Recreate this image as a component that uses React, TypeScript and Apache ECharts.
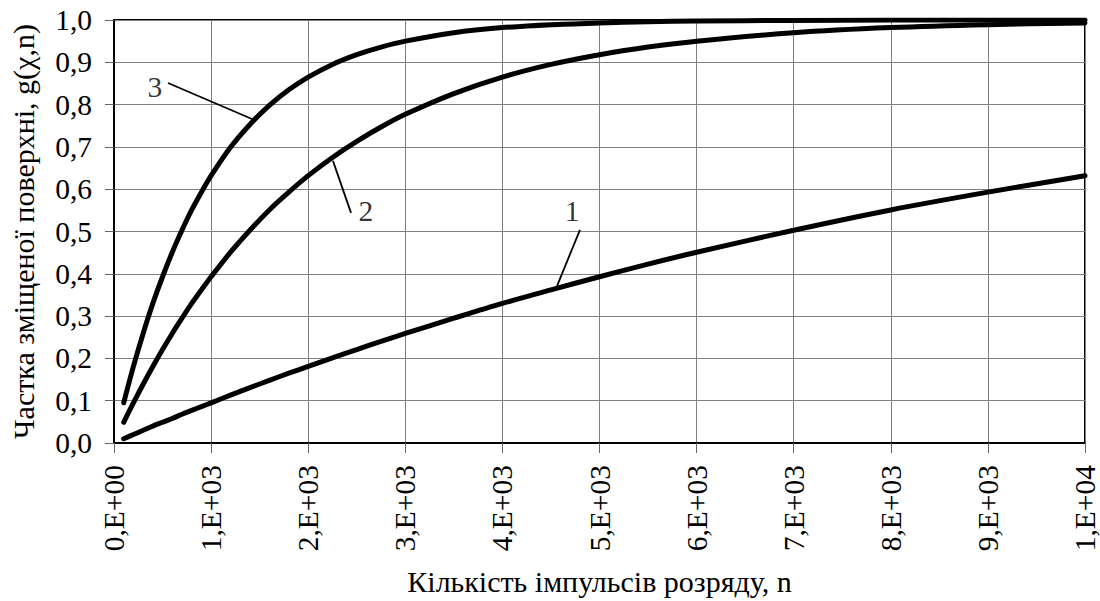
import React, { useEffect, useRef } from "react";
import * as echarts from "echarts";

// Number of discharge pulses (x values shared by all curves)
const pulses = [100, 200, 300, 400, 500, 600, 700, 800, 900, 1000, 1200, 1400, 1600, 1800, 2000, 2250, 2500, 2750, 3000, 3500, 4000, 4500, 5000, 5500, 6000, 7000, 8000, 9000, 10000];

// Curve 1
const curve1 = [0.01, 0.02, 0.03, 0.04, 0.049, 0.058, 0.068, 0.077, 0.086, 0.095, 0.113, 0.131, 0.148, 0.165, 0.181, 0.201, 0.221, 0.24, 0.259, 0.295, 0.33, 0.362, 0.393, 0.423, 0.451, 0.503, 0.551, 0.593, 0.632];
// Curve 2
const curve2 = [0.049, 0.095, 0.139, 0.181, 0.221, 0.259, 0.295, 0.33, 0.362, 0.393, 0.451, 0.503, 0.551, 0.593, 0.632, 0.675, 0.713, 0.747, 0.777, 0.826, 0.865, 0.895, 0.918, 0.936, 0.95, 0.97, 0.982, 0.989, 0.993];
// Curve 3
const curve3 = [0.095, 0.181, 0.259, 0.33, 0.393, 0.451, 0.503, 0.551, 0.593, 0.632, 0.699, 0.753, 0.798, 0.835, 0.865, 0.895, 0.918, 0.936, 0.95, 0.97, 0.982, 0.989, 0.993, 0.996, 0.9975, 0.999, 1.0, 1.0, 1.0];

// Curve labels: [x, y, text] in data units
const curveLabels: [number, number, string][] = [
  [422, 0.842, "3"],
  [2595, 0.548, "2"],
  [4717, 0.548, "1"],
];
// Leader lines: [[x1, y1], [x2, y2]] in data units
const leaders: [[number, number], [number, number]][] = [
  [[556, 0.851], [1421, 0.766]],
  [[2255, 0.667], [2441, 0.544]],
  [[4799, 0.504], [4562, 0.371]],
];

const xTitle = "Кількість імпульсів розряду, n";
const yTitle = "Частка зміщеної поверхні, g(χ,n)";

const FONT = "'Liberation Serif', 'Times New Roman', Times, serif";

function xLabel(v: number): string {
  if (v === 0) return "0,E+00";
  if (v >= 10000) return `${Math.round(v / 10000)},E+04`;
  return `${Math.round(v / 1000)},E+03`;
}

export default function App() {
  const ref = useRef<HTMLDivElement>(null);
  useEffect(() => {
    if (!ref.current) return;
    const chart = echarts.init(ref.current, undefined, { renderer: "svg" });
    const mk = (vals: number[]) => pulses.map((x, i) => [x, vals[i]]);
    const lineSeries = (name: string, vals: number[]) => ({
      name,
      type: "line",
      data: mk(vals),
      smooth: 0.3,
      showSymbol: false,
      symbol: "none",
      lineStyle: { color: "#000", width: 5, join: "round", cap: "round" },
      clip: true,
      z: 3,
    });
    chart.setOption({
      animation: false,
      backgroundColor: "#fff",
      textStyle: { fontFamily: FONT },
      grid: {
        left: 114,
        right: 15,
        top: 20,
        bottom: 158,
        show: true,
        borderColor: "#000",
        borderWidth: 2,
      },
      xAxis: {
        type: "value",
        min: 0,
        max: 10000,
        interval: 1000,
        name: xTitle,
        nameLocation: "middle",
        nameGap: 123,
        nameTextStyle: { fontFamily: FONT, fontSize: 30, color: "#000" },
        axisLine: { show: true, lineStyle: { color: "#000", width: 2 } },
        axisTick: { show: true, length: 10, lineStyle: { color: "#666", width: 1 } },
        splitLine: { show: true, lineStyle: { color: "#808080", width: 1 } },
        axisLabel: {
          rotate: 90,
          margin: 22,
          fontFamily: FONT,
          fontSize: 29.5,
          color: "#000",
          formatter: (v: number) => xLabel(v),
        },
      },
      yAxis: {
        type: "value",
        min: 0,
        max: 1,
        interval: 0.1,
        name: yTitle,
        nameLocation: "middle",
        nameGap: 76,
        nameTextStyle: { fontFamily: FONT, fontSize: 30, color: "#000" },
        axisLine: { show: true, lineStyle: { color: "#000", width: 2 } },
        axisTick: { show: true, length: 9, lineStyle: { color: "#666", width: 1 } },
        splitLine: { show: true, lineStyle: { color: "#808080", width: 1 } },
        axisLabel: {
          margin: 22,
          fontFamily: FONT,
          fontSize: 29.5,
          color: "#000",
          formatter: (v: number) => v.toFixed(1).replace(".", ","),
        },
      },
      series: [
        lineSeries("1", curve1),
        lineSeries("2", curve2),
        lineSeries("3", curve3),
        {
          type: "scatter",
          data: curveLabels.map((d) => ({ value: [d[0], d[1]], name: d[2] })),
          symbolSize: 0,
          silent: true,
          z: 5,
          label: {
            show: true,
            position: "inside",
            formatter: (p: any) => p.name,
            fontFamily: FONT,
            fontSize: 29.5,
            color: "#000",
          },
          markLine: {
            silent: true,
            symbol: ["none", "none"],
            label: { show: false },
            lineStyle: { color: "#000", width: 1.8, type: "solid" },
            data: leaders.map((l) => [{ coord: l[0] }, { coord: l[1] }]),
          },
        },
      ],
    });
    return () => chart.dispose();
  }, []);
  return (
    <div
      ref={ref}
      style={{ position: "absolute", left: 0, top: 0, width: 1100, height: 601, background: "#fff" }}
    />
  );
}
